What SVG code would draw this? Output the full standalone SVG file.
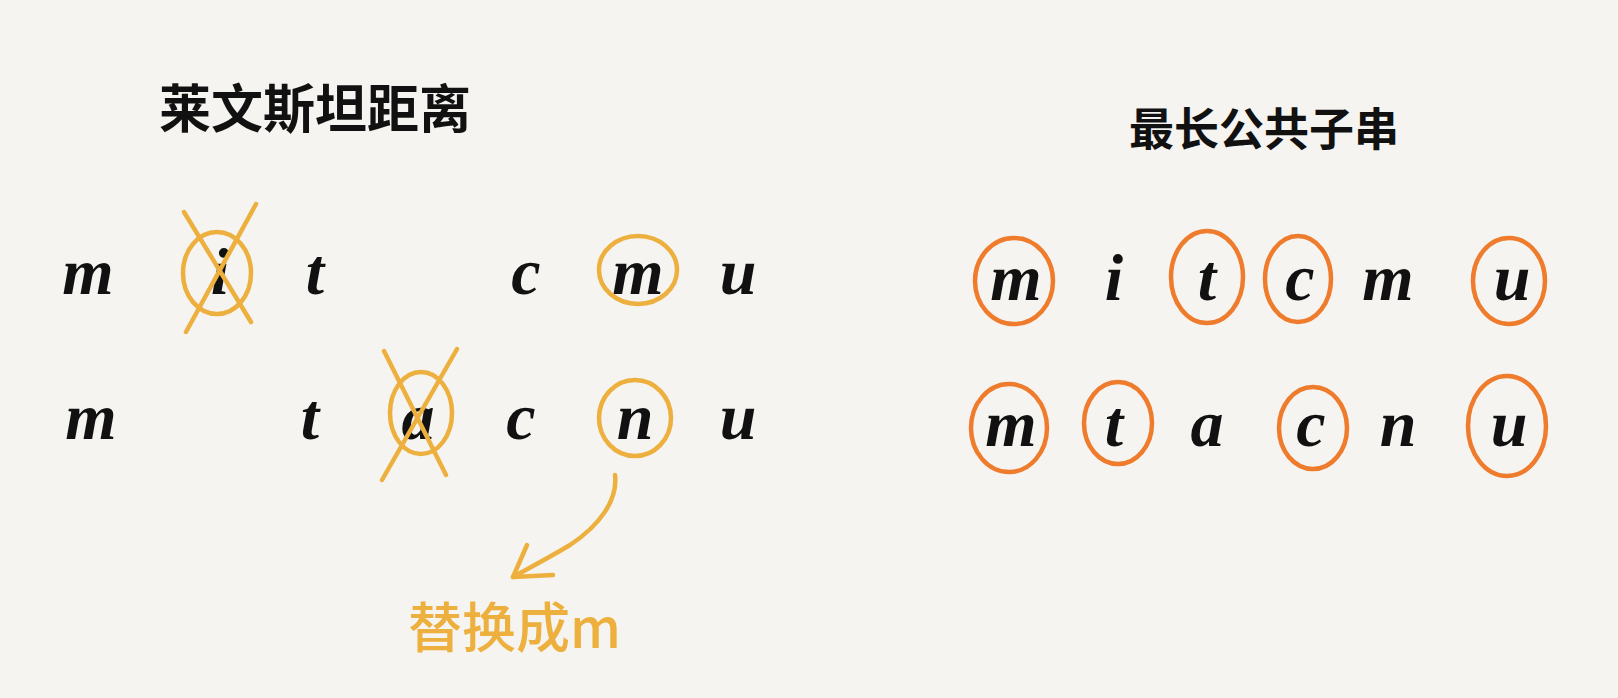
<svg xmlns="http://www.w3.org/2000/svg" width="1618" height="698" viewBox="0 0 1618 698">
<style>
.bg{fill:#F5F4F0}
.title{font-family:"Noto Sans CJK SC","Noto Sans",sans-serif;font-weight:700;fill:#111}
.ch{font-family:"Liberation Serif","DejaVu Serif",serif;font-style:italic;font-weight:700;font-size:66px;fill:#111;text-anchor:middle}
.y{fill:none;stroke:#EDB03E;stroke-width:4.5;stroke-linecap:round;stroke-linejoin:round}
.o{fill:none;stroke:#EF7B2C;stroke-width:4.5;stroke-linecap:round}
.note{font-family:"Noto Sans CJK SC","Noto Sans",sans-serif;font-weight:500;font-size:54px;fill:#EDB03E}
</style>
<rect class="bg" x="0" y="0" width="1618" height="698"/>

<g id="title-left"><text class="title" x="315" y="128" font-size="52" text-anchor="middle">莱文斯坦距离</text></g>
<g id="title-right"><text class="title" x="1264" y="146" font-size="45" text-anchor="middle">最长公共子串</text></g>

<g id="lev-row1">
<text class="ch" x="88" y="294">m</text>
<text class="ch" x="220" y="294">i</text>
<text class="ch" x="315" y="294">t</text>
<text class="ch" x="526" y="294">c</text>
<text class="ch" x="638" y="294">m</text>
<text class="ch" x="738" y="294">u</text>
</g>
<g id="lev-row2">
<text class="ch" x="91" y="439">m</text>
<text class="ch" x="310" y="439">t</text>
<text class="ch" x="418" y="439">a</text>
<text class="ch" x="521" y="439">c</text>
<text class="ch" x="635" y="439">n</text>
<text class="ch" x="738" y="439">u</text>
</g>

<g id="lev-marks">
<ellipse class="y" cx="217" cy="273" rx="34" ry="41"/>
<line class="y" x1="184" y1="212" x2="251" y2="322"/>
<line class="y" x1="256" y1="204" x2="186" y2="332"/>
<ellipse class="y" cx="638" cy="270" rx="39" ry="34"/>
<ellipse class="y" cx="421" cy="413" rx="31" ry="41"/>
<line class="y" x1="384" y1="351" x2="446" y2="475"/>
<line class="y" x1="457" y1="349" x2="382" y2="480"/>
<ellipse class="y" cx="635" cy="418" rx="36" ry="38"/>
</g>

<g id="connectors">
<path class="y" d="M615 475 C618 500 600 525 570 545 C545 560 525 570 513 577"/>
<path class="y" d="M527 545 L513 577 L553 575"/>
</g>

<g id="note"><text class="note" x="408" y="648">替换成m</text></g>

<g id="lcs-row1">
<text class="ch" x="1016" y="300">m</text>
<text class="ch" x="1114" y="300">i</text>
<text class="ch" x="1207" y="300">t</text>
<text class="ch" x="1300" y="300">c</text>
<text class="ch" x="1388" y="300">m</text>
<text class="ch" x="1512" y="300">u</text>
</g>
<g id="lcs-row2">
<text class="ch" x="1011" y="446">m</text>
<text class="ch" x="1114" y="446">t</text>
<text class="ch" x="1207" y="446">a</text>
<text class="ch" x="1311" y="446">c</text>
<text class="ch" x="1398" y="446">n</text>
<text class="ch" x="1509" y="446">u</text>
</g>
<g id="lcs-marks">
<ellipse class="o" cx="1014" cy="281" rx="39" ry="43"/>
<ellipse class="o" cx="1207" cy="277" rx="36" ry="46"/>
<ellipse class="o" cx="1298" cy="279" rx="33" ry="43"/>
<ellipse class="o" cx="1509" cy="281" rx="36" ry="43"/>
<ellipse class="o" cx="1009" cy="428" rx="38" ry="44"/>
<ellipse class="o" cx="1118" cy="423" rx="34" ry="41"/>
<ellipse class="o" cx="1313" cy="428" rx="34" ry="41"/>
<ellipse class="o" cx="1507" cy="426" rx="39" ry="50"/>
</g>
</svg>
